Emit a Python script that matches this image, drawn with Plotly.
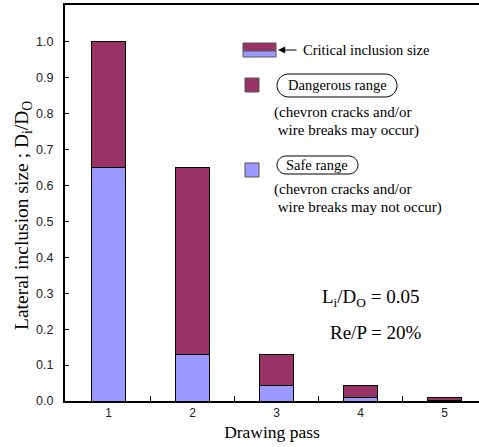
import plotly.graph_objects as go

passes = [1, 2, 3, 4, 5]
critical_size = [1.0, 0.65, 0.13, 0.042, 0.010]
safe_size = [0.65, 0.13, 0.042, 0.010, 0.002]
dangerous_part = [c - s for c, s in zip(critical_size, safe_size)]
x_ticks = [1, 2, 3, 4, 5]
y_ticks = [0.0, 0.1, 0.2, 0.3, 0.4, 0.5, 0.6, 0.7, 0.8, 0.9, 1.0]

MAROON = "#993366"
BLUE = "#9999ff"
SERIF = "Liberation Serif"
SANS = "Liberation Sans"

W, H = 479, 447
L, R, T, B = 65, 0, 5, 46
PW, PH = W - L - R, H - T - B


def px(x):
    return (x - L) / PW


def py(y):
    return (H - B - y) / PH


fig = go.Figure()
fig.add_trace(go.Bar(x=passes, y=safe_size, width=0.4, marker=dict(color=BLUE, line=dict(color="black", width=1)),
                     name="Safe range", showlegend=False))
fig.add_trace(go.Bar(x=passes, y=dangerous_part, width=0.4, marker=dict(color=MAROON, line=dict(color="black", width=1)),
                     name="Dangerous range", showlegend=False))


def pill(x0, y0, x1, y1):
    r = (y1 - y0) / 2
    k = 0.55 * r
    pts = [
        ("M", [(x0 + r, y0)]),
        ("L", [(x1 - r, y0)]),
        ("C", [(x1 - r + k, y0), (x1, y0 + r - k), (x1, y0 + r)]),
        ("C", [(x1, y0 + r + k), (x1 - r + k, y1), (x1 - r, y1)]),
        ("L", [(x0 + r, y1)]),
        ("C", [(x0 + r - k, y1), (x0, y0 + r + k), (x0, y0 + r)]),
        ("C", [(x0, y0 + r - k), (x0 + r - k, y0), (x0 + r, y0)]),
    ]
    s = ""
    for cmd, ps in pts:
        s += cmd + " ".join(f"{px(a):.5f},{py(b):.5f}" for a, b in ps) + " "
    return s + "Z"


shapes = [
    dict(type="rect", xref="paper", yref="paper", x0=px(243), x1=px(276), y0=py(51), y1=py(43),
         fillcolor=MAROON, line=dict(color="#555", width=1)),
    dict(type="rect", xref="paper", yref="paper", x0=px(243), x1=px(276), y0=py(57), y1=py(51),
         fillcolor=BLUE, line=dict(color="#555", width=1)),
    dict(type="rect", xref="paper", yref="paper", x0=px(245), x1=px(259), y0=py(92), y1=py(78),
         fillcolor=MAROON, line=dict(color="#555", width=1)),
    dict(type="rect", xref="paper", yref="paper", x0=px(245), x1=px(259), y0=py(177), y1=py(163),
         fillcolor=BLUE, line=dict(color="#555", width=1)),
    dict(type="path", xref="paper", yref="paper", path=pill(277, 74, 397, 97), line=dict(color="black", width=1)),
    dict(type="path", xref="paper", yref="paper", path=pill(277, 156, 358, 174), line=dict(color="black", width=1)),
]

ann = []


def text(x, y, s, size=15, xanchor="left", font=SERIF):
    ann.append(dict(xref="paper", yref="paper", x=px(x), y=py(y), text=s, showarrow=False,
                    xanchor=xanchor, yanchor="middle", font=dict(family=font, size=size, color="black")))


text(301, 50, "Critical inclusion size", size=14.5)
ann.append(dict(xref="paper", yref="paper", x=px(278), y=py(50), text="", showarrow=True,
                axref="pixel", ayref="pixel", ax=20, ay=0, arrowhead=2, arrowsize=1.2, arrowwidth=1.2,
                arrowcolor="black"))
text(337, 85, "Dangerous range", xanchor="center", size=14.5)
text(272, 112, "(chevron cracks and/or")
text(272, 130, " wire breaks may occur)")
text(317, 165, "Safe range", xanchor="center", size=14.5)
text(272, 189, "(chevron cracks and/or")
text(272, 207, " wire breaks may not occur)")
text(320, 298, "L<sub>i</sub>/D<sub>O</sub> = 0.05", size=19)
text(328, 332, "Re/P = 20%", size=19)
ann.append(dict(xref="paper", yref="paper", x=px(23), y=py(216), text="Lateral inclusion size ; D<sub>i</sub>/D<sub>O</sub>",
                textangle=-90, showarrow=False, xanchor="center", yanchor="middle",
                font=dict(family=SERIF, size=19.5, color="black")))

fig.update_layout(
    width=W, height=H,
    margin=dict(l=L, r=R, t=T, b=B),
    barmode="stack",
    plot_bgcolor="white", paper_bgcolor="white",
    shapes=shapes, annotations=ann,
    xaxis=dict(range=[0.48, 5.41], tickvals=x_ticks, ticktext=[str(v) for v in x_ticks], ticks="",
               showline=True, linecolor="black", linewidth=2, mirror=True, showgrid=False, zeroline=False,
               tickfont=dict(family=SANS, size=12, color="#222"),
               minor=dict(tickvals=[1.5, 2.5, 3.5, 4.5], ticks="inside", ticklen=5, tickcolor="black", showgrid=False),
               title=dict(text="Drawing pass", font=dict(family=SERIF, size=17.5, color="black"), standoff=6)),
    yaxis=dict(range=[0, 1.103], tickvals=y_ticks, ticktext=[f"{v:.1f}" for v in y_ticks],
               ticks="inside", ticklen=4, tickcolor="black",
               showline=True, linecolor="black", linewidth=2, showgrid=False, zeroline=False,
               tickfont=dict(family=SANS, size=12.5, color="#222"), ticklabelstandoff=7),
)

fig.write_html("out.html", post_script="document.body.style.margin='0';",
               config={"displayModeBar": False})
